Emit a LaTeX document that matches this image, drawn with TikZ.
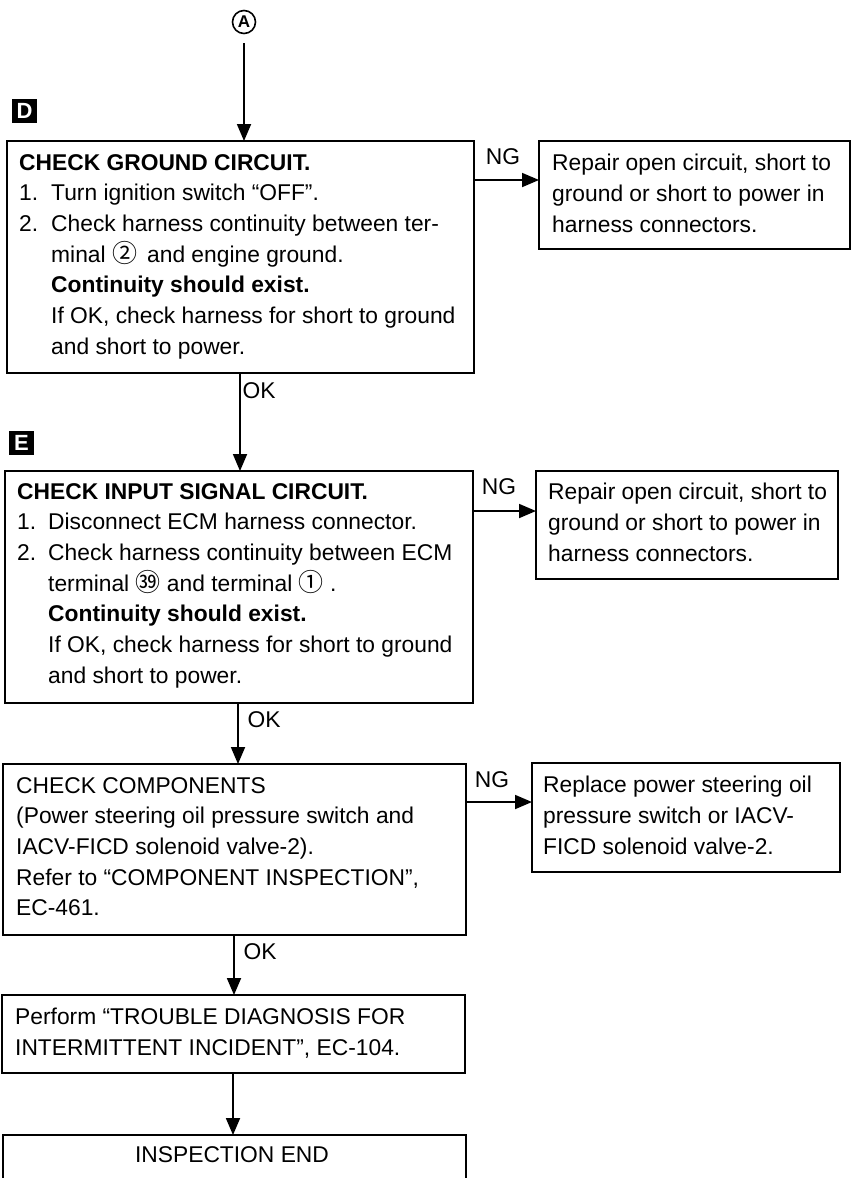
\documentclass[tikz,border=0pt]{standalone}
\usepackage{fontspec}
\setmainfont{Liberation Sans}
\newfontfamily\cjk{Noto Sans CJK SC}
\usetikzlibrary{arrows.meta}
\newcommand{\bodyfont}{\fontsize{22.8}{30.7}\selectfont}
\newcommand{\cn}[1]{{\cjk\fontsize{25}{25}\selectfont #1}}
\begin{document}
\begin{tikzpicture}[x=1pt,y=-1pt,
  box/.style={draw, line width=1.8pt, anchor=north west, inner sep=0pt, outer sep=0pt, rectangle},
  txt/.style={anchor=north west, inner sep=0pt, align=left, font=\bodyfont},
  lbl/.style={font=\bodyfont, inner sep=0pt},
  arr/.style={line width=1.8pt, -{Triangle[length=17pt,width=14pt]}},
  marker/.style={fill=black, text=white, font=\fontsize{22}{22}\selectfont\bfseries, minimum width=25pt, minimum height=24pt, inner sep=0pt}]
\fill[white] (0,0) rectangle (852,1178);
\clip (0,0) rectangle (852,1178);

% start connector
\node[circle, draw, line width=1.6pt, minimum size=23pt, inner sep=0pt, font=\fontsize{17}{17}\selectfont\bfseries] (a) at (244,22) {A};

% markers
\node[marker] (md) at (24.5,111) {D};
\node[marker] (me) at (21.5,443) {E};

% box D
\node[box, minimum width=467pt, minimum height=232pt] (d) at (7,141) {};
\node[txt] (dt) at (19,154) {\textbf{CHECK GROUND CIRCUIT.}\\
\makebox[32pt][l]{1.}Turn ignition switch “OFF”.\\
\makebox[32pt][l]{2.}Check harness continuity between ter-\\
\hspace*{32pt}minal \cn{②}\ \,and engine ground.\\
\hspace*{32pt}\textbf{Continuity should exist.}\\
\hspace*{32pt}If OK, check harness for short to ground\\
\hspace*{32pt}and short to power.};

\node[box, minimum width=311pt, minimum height=108pt] (r1) at (539,141) {};
\node[txt] (r1t) at (552,154) {Repair open circuit, short to\\ground or short to power in\\harness connectors.};

% box E
\node[box, minimum width=468pt, minimum height=232pt] (e) at (5,471) {};
\node[txt] (et) at (17,483) {\textbf{CHECK INPUT SIGNAL CIRCUIT.}\\
\makebox[31pt][l]{1.}Disconnect ECM harness connector.\\
\makebox[31pt][l]{2.}Check harness continuity between ECM\\
\hspace*{31pt}terminal \cn{㊴} and terminal \cn{①} .\\
\hspace*{31pt}\textbf{Continuity should exist.}\\
\hspace*{31pt}If OK, check harness for short to ground\\
\hspace*{31pt}and short to power.};

\node[box, minimum width=302pt, minimum height=108pt] (r2) at (536,471) {};
\node[txt] (r2t) at (548,483) {Repair open circuit, short to\\ground or short to power in\\harness connectors.};

% box C
\node[box, minimum width=463pt, minimum height=171pt] (c) at (3,764) {};
\node[txt] (ct) at (16,777) {CHECK COMPONENTS\\
(Power steering oil pressure switch and\\
IACV-FICD solenoid valve-2).\\
Refer to “COMPONENT INSPECTION”,\\
EC-461.};

\node[box, minimum width=308pt, minimum height=109pt] (r3) at (532,763) {};
\node[txt] (r3t) at (543,776) {Replace power steering oil\\pressure switch or IACV-\\FICD solenoid valve-2.};

% box P
\node[box, minimum width=463pt, minimum height=78pt] (p) at (2,995) {};
\node[txt] (pt) at (15,1008) {Perform “TROUBLE DIAGNOSIS FOR\\INTERMITTENT INCIDENT”, EC-104.};

% end box
\node[box, minimum width=463pt, minimum height=80pt] (en) at (3,1135) {};
\node[lbl] (ent) at (232,1155) {INSPECTION END};

% connector x / y positions
\coordinate (x1) at (240,0);
\coordinate (x2) at (238,0);
\coordinate (x3) at (234,0);
\coordinate (x4) at (233,0);
\coordinate (y1) at (0,180);
\coordinate (y2) at (0,511);
\coordinate (y3) at (0,802);

\draw[arr, shorten <=9pt] (a.south) -- (a.south |- d.north);
\draw[arr] (d.south -| x1) -- (e.north -| x1);
\draw[arr] (e.south -| x2) -- (c.north -| x2);
\draw[arr] (c.south -| x3) -- (p.north -| x3);
\draw[arr] (p.south -| x4) -- (en.north -| x4);

\draw[arr] (d.east |- y1) -- (r1.west |- y1);
\draw[arr] (e.east |- y2) -- (r2.west |- y2);
\draw[arr] (c.east |- y3) -- (r3.west |- y3);

% labels
\node[lbl] (ng1) at (503,157) {NG};
\node[lbl] (ng2) at (499,487) {NG};
\node[lbl] (ng3) at (492,780) {NG};
\node[lbl] (ok1) at (259,391) {OK};
\node[lbl] (ok2) at (264,720) {OK};
\node[lbl] (ok3) at (260,952) {OK};
\end{tikzpicture}
\end{document}
